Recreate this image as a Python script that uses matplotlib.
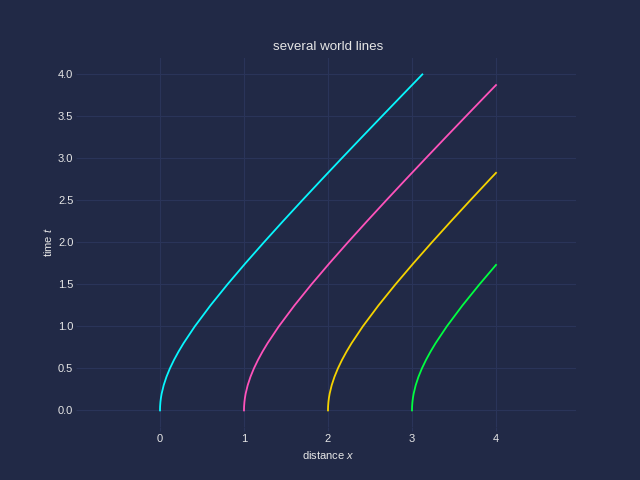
import matplotlib.pyplot as plt

plt.rcParams['font.family'] = ['Liberation Sans', 'DejaVu Sans']
plt.rcParams['mathtext.fontset'] = 'custom'
plt.rcParams['mathtext.it'] = 'Liberation Sans:italic'
plt.rcParams['mathtext.rm'] = 'Liberation Sans'

# common shape of each world line: time t and distance travelled
t_vals = [0.0, 0.02, 0.05, 0.1, 0.15, 0.2, 0.3, 0.4, 0.5, 0.6, 0.7, 0.8, 1.0,
          1.25, 1.5, 1.75, 2.0, 2.25, 2.5, 2.75, 3.0, 3.25, 3.5, 3.75, 4.0]
dx_vals = [0.0, 0.0002, 0.00125, 0.005, 0.0112, 0.0198, 0.0440, 0.0770, 0.1180,
           0.1662, 0.2207, 0.2806, 0.4142, 0.6008, 0.8028, 1.0156, 1.2361,
           1.4622, 1.6926, 1.9261, 2.1623, 2.4004, 2.6401, 2.8810, 3.1231]

x_starts = [0, 1, 2, 3]
t_ends = [4.0, 3.873, 2.828, 1.732]
x_ends = [3.123, 4.0, 4.0, 4.0]
colors = ['#08F7FE', '#FE53BB', '#F5D300', '#00ff41']

bg = '#212946'
grid_c = '#2A3459'

fig, ax = plt.subplots(figsize=(6.4, 4.8), dpi=100)
fig.patch.set_facecolor(bg)
ax.set_facecolor(bg)

for x0, te, xe, c in zip(x_starts, t_ends, x_ends, colors):
    xs = [x0 + d for t, d in zip(t_vals, dx_vals) if t < te]
    ts = [t for t in t_vals if t < te]
    xs.append(xe)
    ts.append(te)
    ax.plot(xs, ts, color=c, lw=1.3)

ax.set_aspect('equal', adjustable='datalim')
ax.set_yticks([0.0, 0.5, 1.0, 1.5, 2.0, 2.5, 3.0, 3.5, 4.0])
ax.set_xticks([0, 1, 2, 3, 4])
ax.grid(True, color=grid_c, lw=0.8)
ax.set_axisbelow(True)
for s in ax.spines.values():
    s.set_visible(False)
ax.tick_params(color=grid_c, labelcolor='0.9', labelsize=8, length=2.8, pad=2.0)

ax.set_title('several world lines', color='0.9', fontsize=9.6, pad=5.8)
ax.set_xlabel('distance $x$', color='0.9', fontsize=8, labelpad=4)
ax.set_ylabel('time $t$', color='0.9', fontsize=8, labelpad=2.5)

plt.savefig('out.png', facecolor=bg)
